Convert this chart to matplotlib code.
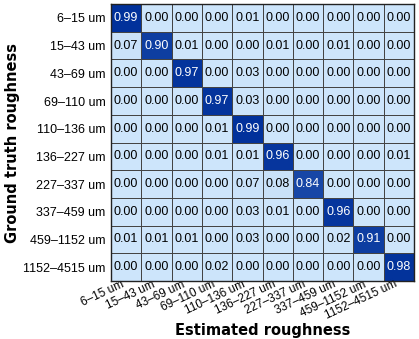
import numpy as np
import matplotlib.pyplot as plt
from matplotlib.colors import LinearSegmentedColormap

# roughness classes (rows: ground truth, columns: estimated)
classes = ['6–15 um', '15–43 um', '43–69 um', '69–110 um', '110–136 um',
           '136–227 um', '227–337 um', '337–459 um', '459–1152 um', '1152–4515 um']

conf = np.array([
    [0.99, 0.00, 0.00, 0.00, 0.01, 0.00, 0.00, 0.00, 0.00, 0.00],
    [0.07, 0.90, 0.01, 0.00, 0.00, 0.01, 0.00, 0.01, 0.00, 0.00],
    [0.00, 0.00, 0.97, 0.00, 0.03, 0.00, 0.00, 0.00, 0.00, 0.00],
    [0.00, 0.00, 0.00, 0.97, 0.03, 0.00, 0.00, 0.00, 0.00, 0.00],
    [0.00, 0.00, 0.00, 0.01, 0.99, 0.00, 0.00, 0.00, 0.00, 0.00],
    [0.00, 0.00, 0.00, 0.01, 0.01, 0.96, 0.00, 0.00, 0.00, 0.01],
    [0.00, 0.00, 0.00, 0.00, 0.07, 0.08, 0.84, 0.00, 0.00, 0.00],
    [0.00, 0.00, 0.00, 0.00, 0.03, 0.01, 0.00, 0.96, 0.00, 0.00],
    [0.01, 0.01, 0.01, 0.00, 0.03, 0.00, 0.00, 0.02, 0.91, 0.00],
    [0.00, 0.00, 0.00, 0.02, 0.00, 0.00, 0.00, 0.00, 0.00, 0.98],
])

cmap = LinearSegmentedColormap.from_list(
    'lb', [(0.0, '#cde5fb'), (0.15, '#c6def6'), (0.6, '#3a68b8'), (1.0, '#00309a')])

fig = plt.figure(figsize=(4.19, 3.39), dpi=100)
ax = fig.add_axes([0.265, 0.171, 0.723, 0.817])

n = len(classes)
ax.pcolormesh(np.arange(n + 1), np.arange(n + 1), conf, cmap=cmap, vmin=0, vmax=1,
              edgecolor='#444444', linewidth=0.6)
ax.set_xlim(0, n)
ax.set_ylim(n, 0)

for i in range(n):
    for j in range(n):
        v = conf[i, j]
        ax.text(j + 0.5, i + 0.5, f'{v:.2f}', ha='center', va='center',
                fontsize=9, family='Liberation Sans',
                color='white' if v > 0.5 else 'black')

ax.set_xticks(np.arange(n) + 0.5)
ax.set_yticks(np.arange(n) + 0.5)
ax.set_xticklabels(classes, rotation=25, ha='right', va='top',
                   fontsize=8.5, family='Liberation Sans')
ax.set_yticklabels(classes, fontsize=9, family='Liberation Sans')
ax.tick_params(axis='x', length=0, pad=-2)
ax.tick_params(axis='y', length=0, pad=4)
for s in ax.spines.values():
    s.set_color('#222222')
    s.set_linewidth(1.0)

ax.set_xlabel('Estimated roughness', fontsize=10.5, fontweight='bold')
ax.xaxis.set_label_coords(0.5, -0.15)
ax.set_ylabel('Ground truth roughness', fontsize=10.5, fontweight='bold', labelpad=2)

fig.savefig('out.png', dpi=100)
